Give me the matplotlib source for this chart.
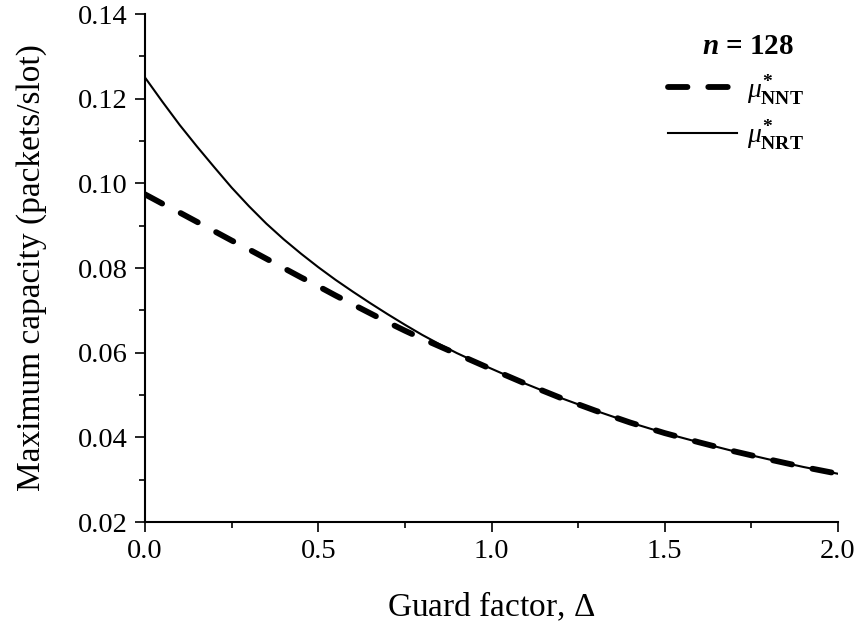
import matplotlib
matplotlib.use("Agg")
import matplotlib.pyplot as plt
from matplotlib.ticker import MultipleLocator, FormatStrFormatter

# ─────────────────────────────────────
# DATA
# ─────────────────────────────────────
delta = [0.00, 0.05, 0.10, 0.15, 0.20, 0.25, 0.30, 0.35, 0.40, 0.45, 0.50,
         0.55, 0.60, 0.65, 0.70, 0.75, 0.80, 0.85, 0.90, 0.95, 1.00,
         1.10, 1.20, 1.30, 1.40, 1.50, 1.60, 1.70, 1.80, 1.90, 2.00]

mu_nrt = [0.1250, 0.1193, 0.1138, 0.1087, 0.1038, 0.0990, 0.0946, 0.0905,
          0.0868, 0.0834, 0.0802, 0.0772, 0.0744, 0.0717, 0.0691, 0.0666,
          0.0642, 0.0620, 0.0599, 0.0580, 0.0562,
          0.0526, 0.0493, 0.0463, 0.0435, 0.0410, 0.0388, 0.0367, 0.0348,
          0.0330, 0.0314]

mu_nnt = [0.0974, 0.0952, 0.0931, 0.0909, 0.0887, 0.0865, 0.0844, 0.0822,
          0.0800, 0.0778, 0.0757, 0.0735, 0.0714, 0.0693, 0.0672, 0.0652,
          0.0633, 0.0615, 0.0597, 0.0579, 0.0561,
          0.0526, 0.0493, 0.0463, 0.0435, 0.0410, 0.0388, 0.0367, 0.0348,
          0.0330, 0.0314]

n_nodes = 128
series_names = ['NNT', 'NRT']

# ─────────────────────────────────────
# STYLE
# ─────────────────────────────────────
plt.rcParams['font.family'] = ['Liberation Serif', 'DejaVu Serif']
plt.rcParams['mathtext.fontset'] = 'custom'
plt.rcParams['mathtext.rm'] = 'Liberation Serif'
plt.rcParams['mathtext.it'] = 'Liberation Serif:italic'
plt.rcParams['mathtext.bf'] = 'Liberation Serif:bold'
plt.rcParams['mathtext.bfit'] = 'Liberation Serif:italic:bold'
plt.rcParams['lines.scale_dashes'] = False

DASHED = dict(color='black', lw=4.2, dashes=(14, 15), dash_capstyle='round')
SOLID  = dict(color='black', lw=1.5)

# ─────────────────────────────────────
# PLOT
# ─────────────────────────────────────
fig = plt.figure(figsize=(8.59, 6.29), dpi=100)
ax = fig.add_axes([145 / 859, 1 - 522 / 629, 693 / 859, 508 / 629])

ax.plot(delta, mu_nnt, **DASHED)
ax.plot(delta, mu_nrt, **SOLID)

ax.set_xlim(0.0, 2.0)
ax.set_ylim(0.02, 0.14)
ax.xaxis.set_major_locator(MultipleLocator(0.5))
ax.xaxis.set_minor_locator(MultipleLocator(0.25))
ax.yaxis.set_major_locator(MultipleLocator(0.02))
ax.yaxis.set_minor_locator(MultipleLocator(0.01))
ax.xaxis.set_major_formatter(FormatStrFormatter('%.1f'))
ax.yaxis.set_major_formatter(FormatStrFormatter('%.2f'))

for side in ['top', 'right']:
    ax.spines[side].set_visible(False)
for side in ['left', 'bottom']:
    ax.spines[side].set_linewidth(1.5)

ax.tick_params(which='major', direction='out', length=7.5, width=1.2,
               labelsize=20.5, pad=5)
ax.tick_params(which='minor', direction='out', length=4, width=1.2)

ax.set_xlabel(r'Guard factor, $\Delta$', fontsize=24, labelpad=18)
ax.set_ylabel('Maximum capacity (packets/slot)', fontsize=24, labelpad=22)

# ── legend, laid out by hand in axes coordinates ──
ax.text(0.936, 0.936, r'$\mathbfit{n}$ = ' + str(n_nodes), transform=ax.transAxes,
        ha='right', va='center', fontsize=21, fontweight='bold')

row_y = [0.856, 0.766]
for name, style, y in zip(series_names, [DASHED, SOLID], row_y):
    ax.plot([0.755, 0.854], [y, y], transform=ax.transAxes, clip_on=False, **style)
    ax.text(0.869, y - 0.021, r'$\mu^{\mathbf{*}}_{\mathbf{%s}}$' % name,
            transform=ax.transAxes, ha='left', va='baseline', fontsize=20)

fig.savefig("out.png", dpi=100)
